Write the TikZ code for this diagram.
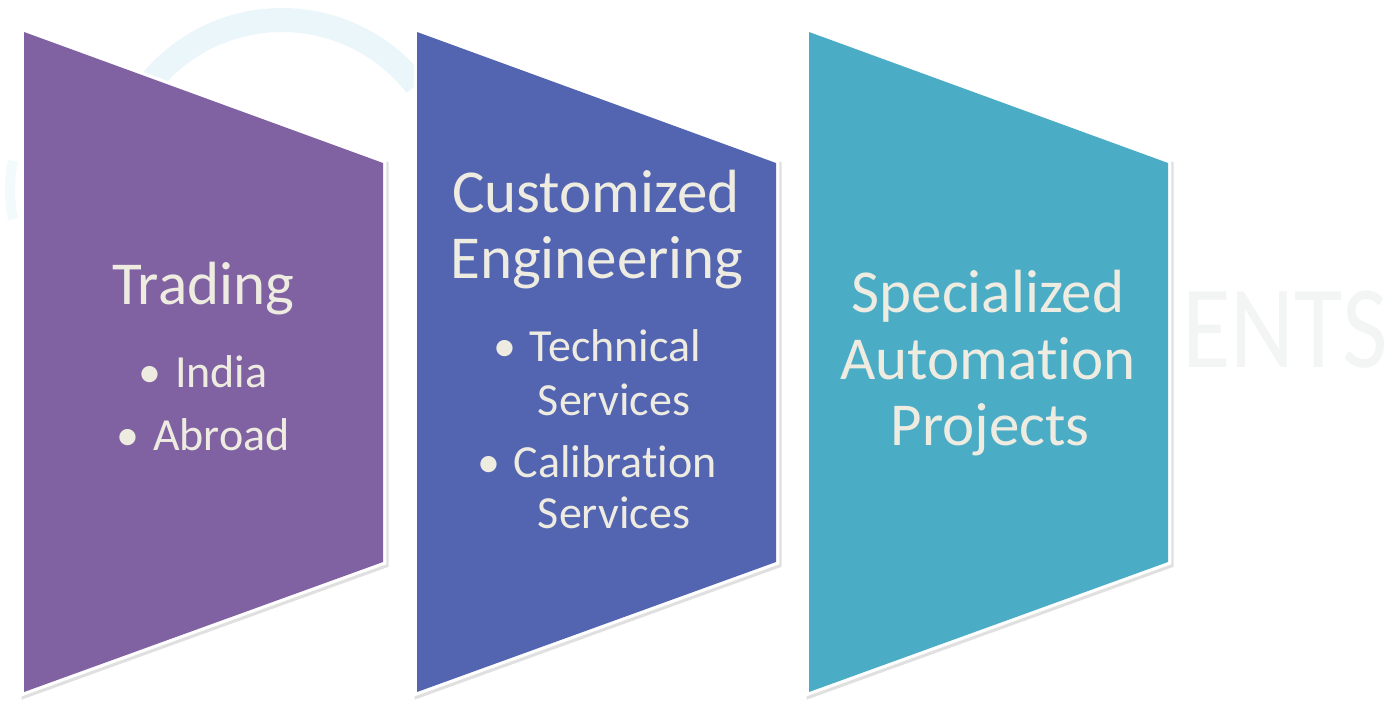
\documentclass[tikz,border=0pt]{standalone}
\usepackage{fontspec}
\setmainfont{Carlito}[Ligatures=NoCommon]
\definecolor{purp}{RGB}{128,98,162}
\definecolor{blu}{RGB}{83,101,177}
\definecolor{tealc}{RGB}{75,172,198}
\definecolor{txt}{RGB}{238,236,225}
\definecolor{wm}{RGB}{235,246,250}
\definecolor{wmtext}{RGB}{243,244,244}
\begin{document}
\begin{tikzpicture}[x=1pt,y=-1pt,
  shapeshadow/.style={draw=black!12, line width=8pt, line join=miter},
  shapeborder/.style={draw=white, line width=6.5pt, line join=miter},
  title/.style={text=txt, anchor=base, inner sep=0pt, font=\fontsize{61}{66}\selectfont},
  item/.style={text=txt, anchor=base, inner sep=0pt, font=\fontsize{46}{52}\selectfont}]
\useasboundingbox (0,0) rectangle (1393,703);
\fill[white] (0,0) rectangle (1393,703);
% faint watermark
\draw[wm, line width=24pt] (282,190) ++(-150:170) arc[start angle=-150, end angle=-38, radius=170];
\draw[wm!60, line width=10pt] (150,190) ++(168:140) arc[start angle=168, end angle=192, radius=140];
\node[anchor=base west, inner sep=0pt, text=wmtext, xscale=0.84, font=\fontsize{118}{118}\selectfont] (wmk) at (1182,368) {ENTS};
% shapes
\foreach \L/\R/\c in {24/383/purp, 417/776/blu, 809/1168/tealc}{
  \path[shapeshadow] ([shift={(1.5,2)}]\L,32) -- ([shift={(1.5,2)}]\R,163) -- ([shift={(1.5,2)}]\R,562) -- ([shift={(1.5,2)}]\L,692) -- cycle;
  \path[shapeborder] (\L,32) -- (\R,163) -- (\R,562) -- (\L,692) -- cycle;
  \fill[\c] (\L,32) -- (\R,163) -- (\R,562) -- (\L,692) -- cycle;
}
% texts
\node[title] (t1) at (203,305) {Trading};
\node[item] (t1a) at (203,388) {•\hspace{0.3em}India};
\node[item] (t1b) at (203,450) {•\hspace{0.3em}Abroad};

\node[title] (t2) at (596,213) {Customized};
\node[title] (t2b) at (597,279) {Engineering};
\node[item] (t2c) at (597,362) {•\hspace{0.3em}Technical};
\node[item] (t2d) at (614,415) {Services};
\node[item] (t2e) at (597,477) {•\hspace{0.3em}Calibration};
\node[item] (t2f) at (614,528) {Services};

\node[title] (t3) at (988,313) {Specialized};
\node[title] (t3b) at (988,380) {Automation};
\node[title] (t3c) at (990,445) {Projects};
\end{tikzpicture}
\end{document}
